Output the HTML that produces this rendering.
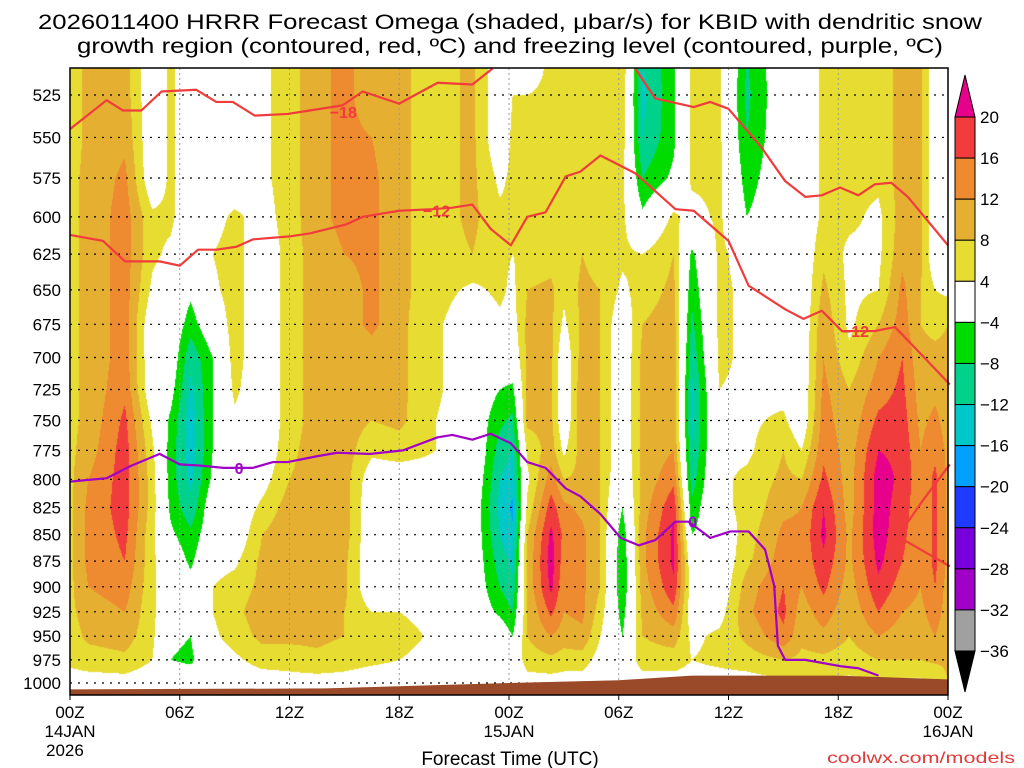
<!DOCTYPE html>
<html><head><meta charset="utf-8"><style>
html,body{margin:0;padding:0;background:#fff;width:1024px;height:768px;overflow:hidden}
#wrap{position:relative;width:1024px;height:768px}
canvas{position:absolute;left:70px;top:68px}
svg{position:absolute;left:0;top:0}
text{font-family:"Liberation Sans",sans-serif;fill:#000}
</style></head><body>
<div id="wrap">
<canvas id="cv" width="878" height="627"></canvas>
<svg id="sv" width="1024" height="768">
<text x="510" y="29" text-anchor="middle" font-size="21" textLength="944" lengthAdjust="spacingAndGlyphs">2026011400 HRRR Forecast Omega (shaded, μbar/s) for KBID with dendritic snow</text>
<text x="510" y="53" text-anchor="middle" font-size="21" textLength="866" lengthAdjust="spacingAndGlyphs">growth region (contoured, red, ºC) and freezing level (contoured, purple, ºC)</text>
<text x="510" y="765" text-anchor="middle" font-size="19">Forecast Time (UTC)</text>
<text x="1015" y="763" text-anchor="end" font-size="16" style="fill:#e03a3a" textLength="188" lengthAdjust="spacingAndGlyphs">coolwx.com/models</text>
<g id="grid"></g><g id="ground"></g><g id="lines"></g><g id="axes"></g><g id="cbar"></g>
</svg>
</div>
<script>
const hours=[0,1,3,4.5,5.5,6.6,7.8,9,10.5,12,13.5,15,16.5,18,20,22,23.5,24.2,25,26.3,27,28,29,30.2,31.3,33,34,35.5,37,39,40,41.2,42.6,44.2,45.5,46.5,47.3,48];
const pressures=[500,525,550,575,600,625,650,675,700,725,750,775,800,825,850,875,900,925,950,975,1000];
const omega=[
[6,6,6,7,7,7,7,7,7,7,7,7,7,7,7,7,7,7,6,5,2],
[9,9,9,9,9,9,9,9,9,9,9,10,12,13,13,13,12,10,9,6,2],
[10,10,11,13,14,14,14,14,14,15,17,18,18,18,17,16,14,12,10,7,2],
[0,0,0,0,5,5,3,0,0,0,3,5,6,6,5,5,5,5,5,4,1],
[5,5,5,5,5,3,0,0,0,-2,-5,-6,-6,-5,-3,0,0,0,-3,-4,0],
[0,0,0,0,0,0,-3,-6,-11,-13,-14,-14,-13,-11,-7,-5,-2,0,-4,-5,0],
[0,0,0,0,2,4,3,0,-4,-4,-4,-4,-3,0,0,2,4,4,3,1,0],
[0,0,0,0,5,6,6,6,6,5,3,0,0,0,0,3,6,7,6,3,0],
[3,3,3,3,2,0,0,0,0,0,0,0,2,5,8,9,9,10,9,6,1],
[6,6,6,6,6,6,6,6,6,6,6,7,8,10,11,11,10,10,9,6,2],
[11,11,11,11,11,10,10,10,10,10,10,10,10,11,12,12,10,9,9,7,2],
[13,13,13,13,13,12,10,10,10,10,10,10,10,10,10,9,9,8,8,6,2],
[10,10,12,13,13,13,13,13,10,9,8,5,1,0,0,0,0,4,8,5,1],
[9,9,9,9,9,9,9,9,9,9,9,6,1,0,0,0,0,4,6,4,1],
[6,6,6,6,6,6,6,5,5,5,4,4,2,0,0,0,0,2,3,2,0],
[9,9,9,9,9,8,3,0,0,0,0,2,1,0,0,0,0,0,2,1,0],
[0,0,0,3,5,5,5,3,0,-4,-7,-10,-12,-13,-12,-10,-8,-5,0,0,0],
[0,4,5,5,5,4,3,2,0,-5,-9,-12,-14,-17,-15,-13,-11,-8,-4,0,0],
[0,4,5,5,5,5,8,9,9,9,9,5,3,5,8,9,9,8,8,6,2],
[5,5,5,5,5,6,9,9,9,9,9,10,14,18,21,22,21,17,12,7,2],
[5,5,5,5,5,5,5,3,0,0,0,3,8,13,15,14,13,12,10,6,2],
[5,5,5,5,5,8,9,9,10,11,11,10,9,11,13,13,13,13,11,6,2],
[6,6,5,5,5,6,8,8,8,8,8,8,8,8,8,8,8,6,4,2,0],
[7,7,6,5,5,5,3,0,0,0,0,0,-1,-4,-7,-8,-8,-6,-4,0,0],
[-12,-13,-12,-8,-3,4,6,8,9,9,9,9,9,10,11,11,10,9,8,6,2],
[-5,-5,-5,-3,5,8,9,10,11,11,11,12,15,19,21,21,19,15,10,6,2],
[5,5,5,5,2,-5,-7,-9,-11,-13,-13,-12,-10,-7,-4,0,1,1,3,4,2],
[5,5,5,5,5,5,5,5,5,4,3,3,3,3,0,0,0,2,5,5,2],
[-8,-9,-8,-6,-4,2,3,3,3,3,3,3,5,5,6,7,10,11,9,6,2],
[0,0,0,0,0,0,0,0,0,2,5,8,9,11,13,14,16,17,15,8,3],
[0,0,0,0,0,0,0,0,0,0,0,4,8,12,13,13,12,10,9,7,3],
[5,5,5,5,5,7,9,11,12,13,14,15,17,20,21,19,17,14,11,7,3],
[5,5,5,5,5,3,3,3,5,8,9,10,10,10,11,11,10,9,8,6,3],
[5,5,5,5,3,3,4,8,12,14,17,20,22,22,22,21,19,16,12,8,3],
[10,10,10,10,10,11,13,14,16,17,18,19,19,18,17,16,14,12,10,8,3],
[9,9,9,9,9,9,8,8,9,10,11,12,13,13,13,13,12,11,10,8,3],
[0,0,0,0,0,0,4,7,9,11,13,15,17,17,17,17,16,14,12,9,3],
[0,0,0,0,0,0,3,8,9,10,10,11,11,11,11,11,10,10,9,9,8]
];
const levels=[20,16,12,8,4,-4,-8,-12,-16,-20,-24,-28,-32,-36];
const levelColors=["#e6008c","#f03c3c","#ee8a30","#e5b032","#e6dc32","#ffffff","#00dc00","#00d28c","#00c8c8","#00a0ff","#1e3cff","#7800dc","#a000c8","#a0a0a0","#000000"];
const pTicks=[525,550,575,600,625,650,675,700,725,750,775,800,825,850,875,900,925,950,975,1000];
const tHours=[0,6,12,18,24,30,36,42,48];
const tLabels=["00Z","06Z","12Z","18Z","00Z","06Z","12Z","18Z","00Z"];
const dLabels=[[0,"14JAN"],[24,"15JAN"],[48,"16JAN"]];
const sfcHours=[0,14,24,30,34,42,48];
const sfcP=[1007,1006,1000,997,992,992,996];
const t18aH=[0,2,2.9,3.9,5,6.9,8,8.9,10.1,11.9,13.1,14.9,16,18,20.1,22,23.1];
const t18aP=[545,528,534,534,523,522,529,529,537,536,534,531,523,530,518,519,510];
const t18bH=[30.9,32,34.1,35,36,37.8,39.1,40.2,41.1,42.1,43.1,44,44.9,45.8,48];
const t18bP=[510,527,532,529,533,556,577,587,586,581,586,579,578,587,619];
const t12H=[0,1.8,3,4.9,6,7,8,9.1,10,12,13.1,15.1,16,18,19.8,20.9,22,23,24.1,25,26,27.1,27.9,29,30.9,33.1,34.1,36,37.1,39.1,40.1,41.1,42.2,44,45.1,46.7,48.1];
const t12P=[612,616,630,630,633,622,622,620,615,613,611,605,600,596,595,594,592,608,619,600,597,574,571,561,572,595,596,616,647,664,671,665,680,680,677,700,721];
const t12cH=[45.4,46.7,48.1];
const t12cP=[848,817,787];
const t12dH=[45.4,48.1];
const t12dP=[853,880];
const frzH=[0,2,3.3,4.9,6,7.1,8.4,10,11.1,11.9,13.5,14.6,16.4,18.2,20.1,20.9,22,23,24.1,25,26,27.1,27.9,29,30.1,31.1,32,33.1,33.8,34.3,35,36.1,37.1,38,38.5,38.7,39.1,40.2,42.2,43.1,44.2];
const frzP=[802,799,788.5,778,787,788,790,790,785,785,780,777,778,775,764,762,766,761,769,785,790,808,815,831,853,860,855,838,838,844,853,847,847,864,899,960,975,975,982,984,992];
const lineLabels=[[14.2,535,"−18","#f03c3c"],[19.3,596,"−12","#f03c3c"],[42.2,680,"−12","#f03c3c"],[9,790,"0","#a000c8"],[33.8,838,"0","#a000c8"]];

const L=70,T=68,R=948,B=695;
function xOf(h){return L+h*(R-L)/48;}
function yOf(p){return 95+912.5*Math.log(p/525);}
function pOfY(y){return 525*Math.exp((y-95)/912.5);}
function colorFor(v){for(let i=0;i<levels.length;i++){if(v>=levels[i])return levelColors[i];}return levelColors[levelColors.length-1];}
function hex(c){return [parseInt(c.substr(1,2),16),parseInt(c.substr(3,2),16),parseInt(c.substr(5,2),16)];}
// shading
(function(){
 const cv=document.getElementById('cv');const ctx=cv.getContext('2d');
 const W=cv.width,H=cv.height;const img=ctx.createImageData(W,H);
 const ci=[],cf=[];
 for(let px=0;px<W;px++){const h=(px+0.5)/W*48;let i=0;while(i<hours.length-2&&hours[i+1]<h)i++;
  let f=(h-hours[i])/(hours[i+1]-hours[i]);f=Math.max(0,Math.min(1,f));ci.push(i);cf.push(f);}
 for(let py=0;py<H;py++){const p=pOfY(T+py+0.5);let r=(p-500)/25;r=Math.max(0,Math.min(19.999,r));const r0=Math.floor(r),rf=r-r0;
  for(let px=0;px<W;px++){const i=ci[px],f=cf[px];
   const a=omega[i][r0]*(1-rf)+omega[i][r0+1]*rf;const b=omega[i+1][r0]*(1-rf)+omega[i+1][r0+1]*rf;
   const v=a*(1-f)+b*f;const c=hex(colorFor(v));const k=(py*W+px)*4;
   img.data[k]=c[0];img.data[k+1]=c[1];img.data[k+2]=c[2];img.data[k+3]=255;}}
 ctx.putImageData(img,0,0);
})();
const NS="http://www.w3.org/2000/svg";
function mk(tag,attrs,parent){const e=document.createElementNS(NS,tag);for(const k in attrs)e.setAttribute(k,attrs[k]);parent.appendChild(e);return e;}
const grid=document.getElementById('grid'),axes=document.getElementById('axes'),lines=document.getElementById('lines'),cbar=document.getElementById('cbar'),ground=document.getElementById('ground');
pTicks.forEach(p=>{const y=yOf(p);
 const gl=mk('line',{x1:L,x2:R,y1:y,y2:y,stroke:'#000','stroke-width':1.2,'stroke-dasharray':'2,6'},grid);
 
 
 const t=mk('text',{x:61,y:y+6,'text-anchor':'end','font-size':17},axes);t.textContent=p;
 
 
});
tHours.forEach((h,i)=>{const x=xOf(h);
 if(i>0&&i<tHours.length-1){const vl=mk('line',{x1:x,x2:x,y1:T,y2:B,stroke:'#999','stroke-width':1,'stroke-dasharray':'2,3'},grid);
  
  }
 const tk=mk('line',{x1:x,x2:x,y1:B,y2:B+5,stroke:'#000','stroke-width':1},axes);
 
 
 const t=mk('text',{x:x,y:718,'text-anchor':'middle','font-size':17},axes);t.textContent=tLabels[i];
 
 
});
dLabels.forEach(d=>{const t=mk('text',{x:xOf(d[0]),y:737,'text-anchor':'middle','font-size':17},axes);t.textContent=d[1];
 
 });
const yr=mk('text',{x:46,y:756,'font-size':17},axes);yr.textContent='2026';


// ground
(function(){let pts=[];sfcHours.forEach((h,i)=>pts.push(xOf(h)+','+yOf(sfcP[i])));pts.push(R+','+B,L+','+B);
 const g=mk('polygon',{points:pts.join(' '),fill:'#9a4a28'},ground);
 
 })();
function drawLine(hs,ps,color,name){const pts=hs.map((h,i)=>xOf(h)+','+yOf(ps[i])).join(' ');
 const pl=mk('polyline',{points:pts,fill:'none',stroke:color,'stroke-width':2.2,'stroke-linejoin':'round'},lines);
 
 }
drawLine(t18aH,t18aP,'#f03c3c','temp-minus18-contour-a');
drawLine(t18bH,t18bP,'#f03c3c','temp-minus18-contour-b');
drawLine(t12H,t12P,'#f03c3c','temp-minus12-contour');
drawLine(t12cH,t12cP,'#f03c3c','temp-minus12-contour-lower-a');
drawLine(t12dH,t12dP,'#f03c3c','temp-minus12-contour-lower-b');
drawLine(frzH,frzP,'#a000c8','freezing-level-contour');
lineLabels.forEach(l=>{const x=xOf(l[0]),y=yOf(l[1]);
 const bg=mk('rect',{x:x-2,y:y-8,width:l[2].length*11,height:16,fill:'none'},lines);
 
 
 const t=mk('text',{x:x,y:y+6,'font-size':16,'font-weight':'bold',style:'fill:'+l[3]},lines);t.textContent=l[2];
 
 });
const fr=mk('rect',{x:L,y:T,width:R-L,height:B-T,fill:'none',stroke:'#000','stroke-width':1.5},axes);


// colorbar
(function(){const x0=955,w=20,top=117,step=(651-117)/13;
 const tri=mk('polygon',{points:`${x0},${top} ${x0+w},${top} ${x0+w/2},75`,fill:levelColors[0],stroke:'#000','stroke-width':1},cbar);
 
 
 for(let i=0;i<13;i++){const r=mk('rect',{x:x0,y:top+i*step,width:w,height:step,fill:levelColors[i+1],stroke:'#000','stroke-width':1},cbar);
  
  }
 const tb=mk('polygon',{points:`${x0},651 ${x0+w},651 ${x0+w/2},692`,fill:'#000',stroke:'#000','stroke-width':1},cbar);
 
 
 levels.forEach((v,i)=>{const t=mk('text',{x:x0+w+5,y:top+i*step+6,'font-size':17},cbar);t.textContent=v<0?'−'+(-v):v;
  
  });
})();
</script>
</body></html>
